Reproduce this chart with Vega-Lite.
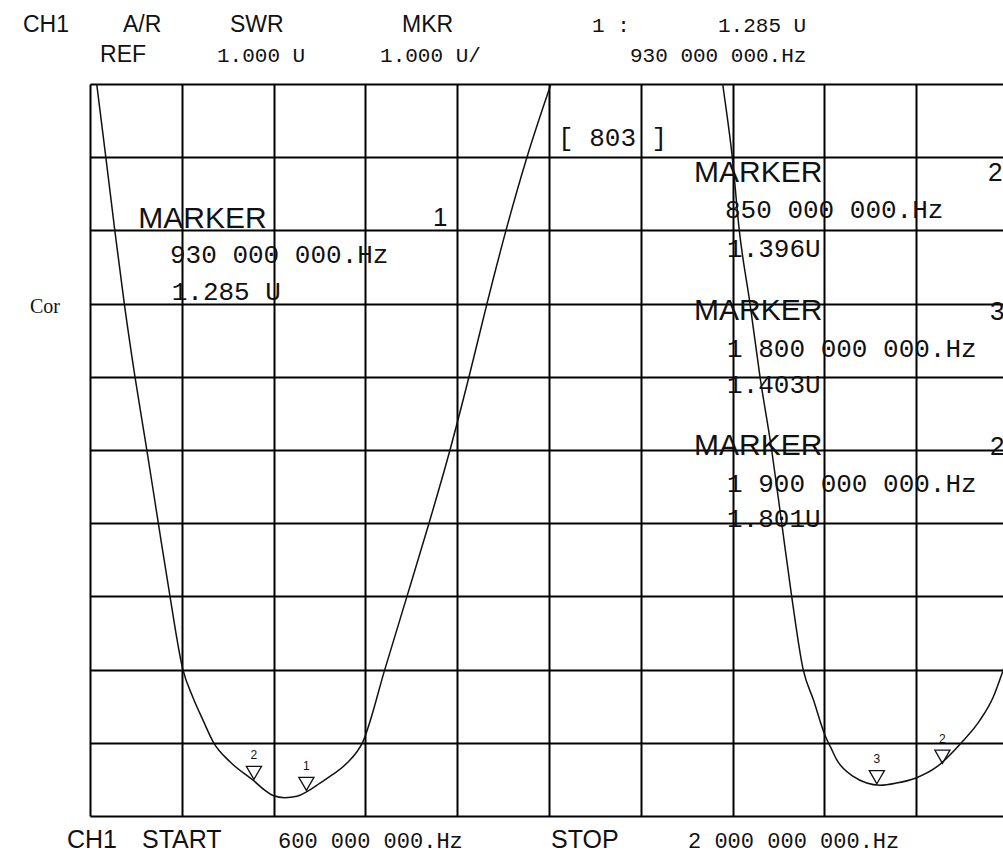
{
  "$schema": "https://vega.github.io/schema/vega-lite/v6.json",
  "width": 913,
  "height": 732,
  "autosize": {"type": "none"},
  "padding": {"left": 90, "top": 84, "right": 0, "bottom": 42},
  "background": "white",
  "config": {"view": {"stroke": null}},
  "datasets": {
    "trace": [
      {"f": 600, "s": 11.74, "seg": "a"},
      {"f": 610.2, "s": 11.0, "seg": "a"},
      {"f": 624.4, "s": 9.98, "seg": "a"},
      {"f": 638.1, "s": 8.98, "seg": "a"},
      {"f": 652.3, "s": 8.0, "seg": "a"},
      {"f": 668.6, "s": 7.0, "seg": "a"},
      {"f": 686.5, "s": 6.01, "seg": "a"},
      {"f": 704.2, "s": 5.0, "seg": "a"},
      {"f": 722.0, "s": 4.0, "seg": "a"},
      {"f": 741.4, "s": 3.01, "seg": "a"},
      {"f": 757, "s": 2.62, "seg": "a"},
      {"f": 772.3, "s": 2.31, "seg": "a"},
      {"f": 788.0, "s": 2.01, "seg": "a"},
      {"f": 813.5, "s": 1.74, "seg": "a"},
      {"f": 850, "s": 1.48, "seg": "a"},
      {"f": 866.9, "s": 1.35, "seg": "a"},
      {"f": 879, "s": 1.28, "seg": "a"},
      {"f": 897, "s": 1.25, "seg": "a"},
      {"f": 915.7, "s": 1.27, "seg": "a"},
      {"f": 930, "s": 1.33, "seg": "a"},
      {"f": 950.8, "s": 1.45, "seg": "a"},
      {"f": 966, "s": 1.54, "seg": "a"},
      {"f": 991.5, "s": 1.72, "seg": "a"},
      {"f": 1015.9, "s": 2.01, "seg": "a"},
      {"f": 1049.9, "s": 3.01, "seg": "a"},
      {"f": 1083.4, "s": 4.0, "seg": "a"},
      {"f": 1117.0, "s": 5.0, "seg": "a"},
      {"f": 1149.0, "s": 6.0, "seg": "a"},
      {"f": 1178.0, "s": 7.0, "seg": "a"},
      {"f": 1205.4, "s": 8.0, "seg": "a"},
      {"f": 1234.4, "s": 9.0, "seg": "a"},
      {"f": 1266.4, "s": 10.0, "seg": "a"},
      {"f": 1303.0, "s": 11.0, "seg": "a"},
      {"f": 1332, "s": 11.74, "seg": "a"},
      {"f": 1554, "s": 11.74, "seg": "b"},
      {"f": 1564.9, "s": 11.0, "seg": "b"},
      {"f": 1579.5, "s": 10.0, "seg": "b"},
      {"f": 1590.2, "s": 9.0, "seg": "b"},
      {"f": 1606.5, "s": 8.0, "seg": "b"},
      {"f": 1621.8, "s": 7.0, "seg": "b"},
      {"f": 1639.6, "s": 6.0, "seg": "b"},
      {"f": 1654.9, "s": 5.0, "seg": "b"},
      {"f": 1670.1, "s": 4.0, "seg": "b"},
      {"f": 1687.4, "s": 3.01, "seg": "b"},
      {"f": 1703.5, "s": 2.58, "seg": "b"},
      {"f": 1721, "s": 2.1, "seg": "b"},
      {"f": 1730, "s": 1.93, "seg": "b"},
      {"f": 1738.7, "s": 1.77, "seg": "b"},
      {"f": 1764, "s": 1.54, "seg": "b"},
      {"f": 1784.5, "s": 1.45, "seg": "b"},
      {"f": 1804.8, "s": 1.42, "seg": "b"},
      {"f": 1830, "s": 1.45, "seg": "b"},
      {"f": 1859.7, "s": 1.52, "seg": "b"},
      {"f": 1891.2, "s": 1.67, "seg": "b"},
      {"f": 1930.9, "s": 2.02, "seg": "b"},
      {"f": 1957.3, "s": 2.31, "seg": "b"},
      {"f": 1977.7, "s": 2.63, "seg": "b"},
      {"f": 1992.5, "s": 2.99, "seg": "b"},
      {"f": 2000, "s": 3.19, "seg": "b"}
    ],
    "markers": [
      {"f": 850, "s": 1.48, "t": "2"},
      {"f": 930, "s": 1.33, "t": "1"},
      {"f": 1800, "s": 1.42, "t": "3"},
      {"f": 1900, "s": 1.7, "t": "2"}
    ],
    "markerWords": [
      {"f": 673.7, "s": 9.033, "t": "MARKER"},
      {"f": 1521.1, "s": 9.667, "t": "MARKER"},
      {"f": 1521.1, "s": 7.776, "t": "MARKER"},
      {"f": 1521.1, "s": 5.932, "t": "MARKER"}
    ],
    "markerNums": [
      {"f": 1123.1, "s": 9.06, "t": "1"},
      {"f": 1969.5, "s": 9.675, "t": "2"},
      {"f": 1972.5, "s": 7.776, "t": "3"},
      {"f": 1972.5, "s": 5.932, "t": "2"}
    ],
    "readouts": [
      {"f": 722, "s": 8.555, "t": "930 000 000.Hz"},
      {"f": 724.6, "s": 8.049, "t": "1.285 U"},
      {"f": 1313.7, "s": 10.153, "t": "[ 803 ]"},
      {"f": 1568.4, "s": 9.169, "t": "850 000 000.Hz"},
      {"f": 1571.5, "s": 8.637, "t": "1.396U"},
      {"f": 1571.5, "s": 7.27, "t": "1 800 000 000.Hz"},
      {"f": 1571.5, "s": 6.779, "t": "1.403U"},
      {"f": 1571.5, "s": 5.426, "t": "1 900 000 000.Hz"},
      {"f": 1571.5, "s": 4.948, "t": "1.801U"}
    ],
    "headSans": [
      {"f": 497.8, "s": 11.71, "t": "CH1"},
      {"f": 650.3, "s": 11.71, "t": "A/R"},
      {"f": 813.5, "s": 11.71, "t": "SWR"},
      {"f": 1075.8, "s": 11.71, "t": "MKR"},
      {"f": 615.3, "s": 11.294, "t": "REF"}
    ],
    "headMono": [
      {"f": 1365.6, "s": 11.71, "t": "1 :"},
      {"f": 1557.7, "s": 11.71, "t": "1.285 U"},
      {"f": 793.7, "s": 11.294, "t": "1.000 U"},
      {"f": 1042.3, "s": 11.294, "t": "1.000 U/"},
      {"f": 1423.5, "s": 11.294, "t": "930 000  000.Hz"}
    ],
    "footSans": [
      {"f": 564.9, "s": 0.563, "t": "CH1"},
      {"f": 679.3, "s": 0.563, "t": "START"},
      {"f": 1303, "s": 0.563, "t": "STOP"}
    ],
    "footMono": [
      {"f": 886.7, "s": 0.563, "t": "600 000 000.Hz"},
      {"f": 1512, "s": 0.563, "t": "2 000 000 000.Hz"}
    ],
    "side": [
      {"f": 508.5, "s": 7.872, "t": "Cor"}
    ]
  },
  "encoding": {
    "x": {
      "field": "f",
      "type": "quantitative",
      "scale": {"domain": [600, 1992.37], "nice": false, "zero": false},
      "axis": {
        "values": [600, 740, 880, 1020, 1160, 1300, 1440, 1580, 1720, 1860],
        "grid": true,
        "gridColor": "#000",
        "gridWidth": 2,
        "gridOpacity": 1,
        "labels": false,
        "ticks": false,
        "domain": false,
        "title": null
      }
    },
    "y": {
      "field": "s",
      "type": "quantitative",
      "scale": {"domain": [1, 11], "nice": false, "zero": false},
      "axis": {
        "values": [1, 2, 3, 4, 5, 6, 7, 8, 9, 10, 11],
        "grid": true,
        "gridColor": "#000",
        "gridWidth": 2,
        "gridOpacity": 1,
        "labels": false,
        "ticks": false,
        "domain": false,
        "title": null
      }
    }
  },
  "layer": [
    {
      "data": {"name": "trace"},
      "mark": {"type": "line", "clip": true, "color": "#111", "strokeWidth": 1.5, "interpolate": "monotone"},
      "encoding": {"detail": {"field": "seg"}}
    },
    {
      "data": {"name": "markers"},
      "mark": {"type": "point", "shape": "triangle-down", "filled": false, "stroke": "#111", "strokeWidth": 1.3, "size": 230, "yOffset": -8, "opacity": 1}
    },
    {
      "data": {"name": "markers"},
      "mark": {"type": "text", "font": "Liberation Sans", "fontSize": 12, "color": "#111", "dy": -22, "baseline": "alphabetic"},
      "encoding": {"text": {"field": "t"}}
    },
    {
      "data": {"name": "markerWords"},
      "mark": {"type": "text", "align": "left", "baseline": "alphabetic", "font": "Liberation Sans", "fontSize": 30, "color": "#111"},
      "encoding": {"text": {"field": "t"}}
    },
    {
      "data": {"name": "markerNums"},
      "mark": {"type": "text", "align": "left", "baseline": "alphabetic", "font": "Liberation Sans", "fontSize": 26, "color": "#111"},
      "encoding": {"text": {"field": "t"}}
    },
    {
      "data": {"name": "readouts"},
      "mark": {"type": "text", "align": "left", "baseline": "alphabetic", "font": "Liberation Mono", "fontSize": 26, "color": "#111"},
      "encoding": {"text": {"field": "t"}}
    },
    {
      "data": {"name": "headSans"},
      "mark": {"type": "text", "align": "left", "baseline": "alphabetic", "font": "Liberation Sans", "fontSize": 23, "color": "#111"},
      "encoding": {"text": {"field": "t"}}
    },
    {
      "data": {"name": "headMono"},
      "mark": {"type": "text", "align": "left", "baseline": "alphabetic", "font": "Liberation Mono", "fontSize": 21, "color": "#111"},
      "encoding": {"text": {"field": "t"}}
    },
    {
      "data": {"name": "footSans"},
      "mark": {"type": "text", "align": "left", "baseline": "alphabetic", "font": "Liberation Sans", "fontSize": 25, "color": "#111"},
      "encoding": {"text": {"field": "t"}}
    },
    {
      "data": {"name": "footMono"},
      "mark": {"type": "text", "align": "left", "baseline": "alphabetic", "font": "Liberation Mono", "fontSize": 22, "color": "#111"},
      "encoding": {"text": {"field": "t"}}
    },
    {
      "data": {"name": "side"},
      "mark": {"type": "text", "align": "left", "baseline": "alphabetic", "font": "Liberation Serif", "fontSize": 20, "color": "#111"},
      "encoding": {"text": {"field": "t"}}
    }
  ]
}
